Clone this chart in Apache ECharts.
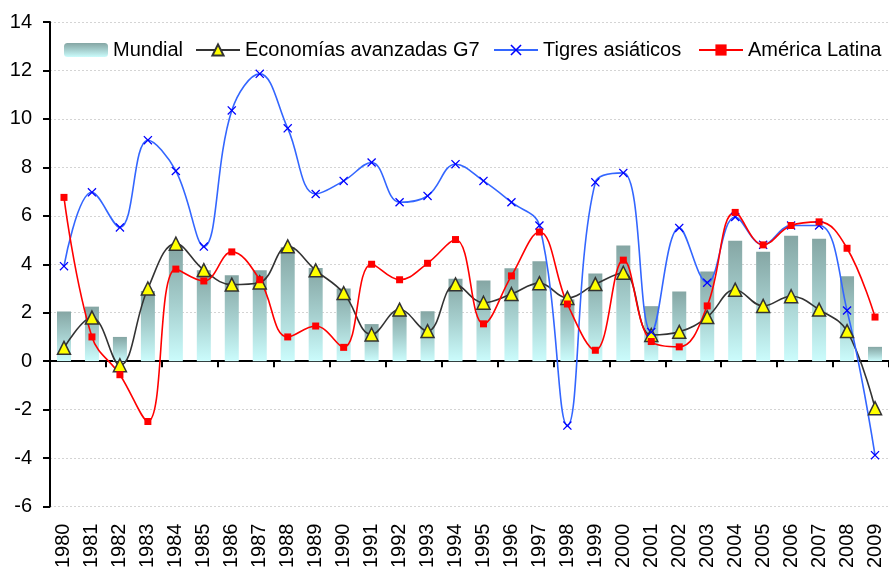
<!DOCTYPE html>
<html>
<head>
<meta charset="utf-8">
<script src="https://cdn.jsdelivr.net/npm/echarts@6/dist/echarts.min.js"></script>
<style>html,body{margin:0;padding:0;background:#fff}#c{width:889px;height:571px}</style>
</head>
<body>
<div id="c"></div>
<script>
var years = ['1980','1981','1982','1983','1984','1985','1986','1987','1988','1989','1990','1991','1992','1993','1994','1995','1996','1997','1998','1999','2000','2001','2002','2003','2004','2005','2006','2007','2008','2009'];
var mundial = [2.05,2.25,1.0,2.9,4.7,3.75,3.55,3.75,4.7,3.85,3.0,1.53,2.0,2.06,3.4,3.33,3.84,4.12,2.55,3.62,4.77,2.27,2.88,3.7,4.97,4.52,5.18,5.05,3.5,0.59];
var g7 = [0.55,1.8,-0.17,3.0,4.85,3.76,3.16,3.25,4.74,3.75,2.81,1.1,2.13,1.24,3.17,2.41,2.77,3.22,2.61,3.18,3.65,1.08,1.21,1.82,2.95,2.28,2.68,2.13,1.24,-1.94];
var tigres = [3.92,6.97,5.52,9.12,7.85,4.73,10.35,11.86,9.61,6.9,7.44,8.2,6.56,6.82,8.13,7.44,6.56,5.6,-2.66,7.38,7.77,1.2,5.5,3.24,5.95,4.8,5.6,5.6,2.09,-3.88];
var latina = [6.76,1.0,-0.56,-2.49,3.8,3.31,4.51,3.36,1.0,1.45,0.57,4.0,3.36,4.04,5.02,1.54,3.52,5.33,2.36,0.45,4.17,0.81,0.59,2.28,6.14,4.8,5.6,5.75,4.66,1.82];
var seriesNames = ['Mundial', 'Economías avanzadas G7', 'Tigres asiáticos', 'América Latina'];
var yTicks = {min: -6, max: 14, interval: 2};

var font = 'Liberation Sans, Arial, sans-serif';
var xPath = 'path://M0,1 L1,0 L5,4 L9,0 L10,1 L6,5 L10,9 L9,10 L5,6 L1,10 L0,9 L4,5 Z';
var legendLefts = [64, 195, 493, 698];
var legends = seriesNames.map(function (n, i) {
  return {
    left: legendLefts[i], top: 40, padding: 0, itemWidth: 44, itemHeight: 14,
    textStyle: {fontSize: 20, color: '#000', fontFamily: font},
    data: [n]
  };
});
var chart = echarts.init(document.getElementById('c'), null, {renderer: 'canvas'});
chart.setOption({
  animation: false,
  backgroundColor: '#fff',
  textStyle: {fontFamily: font},
  grid: {left: 50, right: -5, top: 22, bottom: 61, containLabel: false},
  legend: legends,
  xAxis: [{
    type: 'category', data: years, boundaryGap: true,
    axisLine: {onZero: true, lineStyle: {color: '#000', width: 2}},
    axisTick: {show: true, inside: false, length: 6, lineStyle: {color: '#000', width: 2}},
    axisLabel: {show: false},
    splitLine: {show: false}
  }, {
    type: 'category', data: years, position: 'bottom', boundaryGap: true,
    axisLine: {show: false}, axisTick: {show: false}, splitLine: {show: false},
    axisLabel: {rotate: 90, margin: 17, fontSize: 20, color: '#000', fontFamily: font}
  }],
  yAxis: {
    type: 'value', min: yTicks.min, max: yTicks.max, interval: yTicks.interval,
    axisLine: {show: true, lineStyle: {color: '#000', width: 2}},
    axisTick: {show: true, length: 7, lineStyle: {color: '#000', width: 2}},
    axisLabel: {fontSize: 20, color: '#000', margin: 18, fontFamily: font},
    splitLine: {show: true, lineStyle: {color: '#d4d4d4', width: 1, type: [2, 2]}}
  },
  series: [{
    name: seriesNames[0], type: 'bar', data: mundial, barWidth: 14,
    itemStyle: {color: new echarts.graphic.LinearGradient(0, 0, 0, 1, [
      {offset: 0, color: '#85a6a4'}, {offset: 0.5, color: '#a6cfce'}, {offset: 1, color: '#cbfcfc'}])}
  }, {
    name: seriesNames[1], type: 'line', data: g7, smooth: 0.4,
    symbol: 'triangle', symbolSize: 13,
    lineStyle: {color: '#333333', width: 1.6},
    itemStyle: {color: '#ffff00', borderColor: '#333333', borderWidth: 1.5}
  }, {
    name: seriesNames[2], type: 'line', data: tigres, smooth: 0.4,
    symbol: xPath, symbolSize: 9,
    lineStyle: {color: '#3366ff', width: 1.6},
    itemStyle: {color: '#0000ff', borderWidth: 0}
  }, {
    name: seriesNames[3], type: 'line', data: latina, smooth: 0.4,
    symbol: 'rect', symbolSize: 7,
    lineStyle: {color: '#ff0000', width: 1.6},
    itemStyle: {color: '#ff0000', borderWidth: 0}
  }]
});
</script>
</body>
</html>
